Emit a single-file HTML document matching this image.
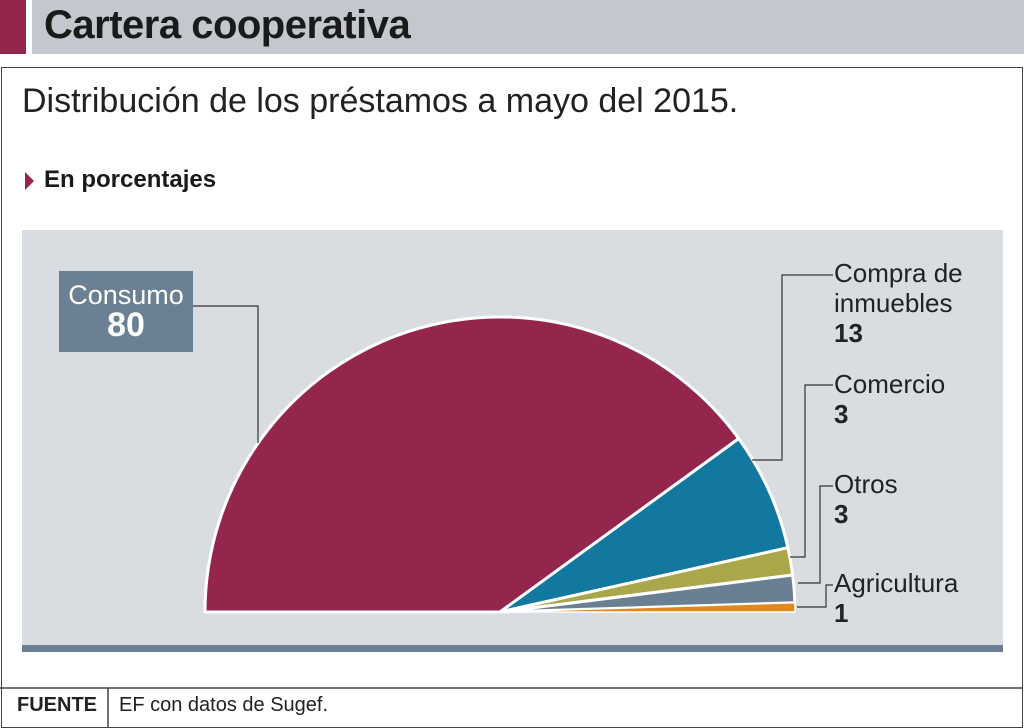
<!DOCTYPE html>
<html><head><meta charset="utf-8"><style>
body{margin:0;width:1024px;height:728px;background:#fff;position:relative;overflow:hidden;font-family:"Liberation Sans Narrow","Liberation Sans",sans-serif}
.a{position:absolute}
</style></head><body>
<div class="a" style="left:0;top:0;width:26px;height:54px;background:#94264e"></div>
<div class="a" style="left:32px;top:0;width:992px;height:54px;background:#c3c8cf"></div>
<div class="a" style="left:44px;top:3px;font-size:40px;font-weight:bold;color:#1a1a1a;letter-spacing:-0.5px">Cartera cooperativa</div>
<div class="a" style="left:1px;top:67px;width:1020px;height:659px;border:1px solid #444"></div>
<div class="a" style="left:22px;top:82px;font-size:34px;color:#222">Distribución de los préstamos a mayo del 2015.</div>
<div class="a" style="left:25px;top:172px;width:0;height:0;border-left:9px solid #94264e;border-top:9px solid transparent;border-bottom:9px solid transparent"></div>
<div class="a" style="left:44px;top:166px;font-size:24px;font-weight:bold;color:#1a1a1a">En porcentajes</div>
<div class="a" style="left:22px;top:230px;width:981px;height:415px;background:#d9dce0"></div>
<div class="a" style="left:22px;top:645px;width:981px;height:7px;background:#6b7f92"></div>
<svg class="a" style="left:0;top:0" width="1024" height="728">
<g stroke="#fff" stroke-width="3" stroke-linejoin="round">
<path d="M500,612 L205,612 A295,295 0 0 1 738.7,438.6 Z" fill="#94264e"/>
<path d="M500,612 L738.7,438.6 A295,295 0 0 1 787.9,547.7 Z" fill="#1378a0"/>
<path d="M500,612 L787.9,547.7 A295,295 0 0 1 792.7,575 Z" fill="#a8a84a"/>
<path d="M500,612 L792.7,575 A295,295 0 0 1 794.9,602.7 Z" fill="#6b7f92"/>
<path d="M500,612 L794.9,602.7 A295,295 0 0 1 795,612 Z" fill="#e08a1e" stroke-width="1.5"/>
</g>
<g stroke="#333" stroke-width="1.2" fill="none">
<polyline points="193,306 258,306 258,443"/>
<polyline points="833,275 782,275 782,460 752,460"/>
<polyline points="833,385 805,385 805,557 790,557"/>
<polyline points="833,486 820,486 820,583 798,583"/>
<polyline points="833,585 826,585 826,607 797,607"/>
</g>
<line x1="0" y1="688" x2="1022" y2="688" stroke="#444" stroke-width="1.5"/>
<line x1="108" y1="688" x2="108" y2="727" stroke="#444" stroke-width="1.5"/>
</svg>
<div class="a" style="left:59px;top:271px;width:134px;height:81px;background:#6b8093;color:#fff;text-align:center;font-size:27px;line-height:30px;padding-top:9px;box-sizing:border-box">Consumo<br><b style="font-size:34px">80</b></div>
<div class="a" style="left:834px;top:258px;font-size:26px;line-height:30px;color:#222">Compra de<br>inmuebles<br><b>13</b></div>
<div class="a" style="left:834px;top:369px;font-size:26px;line-height:30px;color:#222">Comercio<br><b>3</b></div>
<div class="a" style="left:834px;top:469px;font-size:26px;line-height:30px;color:#222">Otros<br><b>3</b></div>
<div class="a" style="left:834px;top:568px;font-size:26px;line-height:30px;color:#222">Agricultura<br><b>1</b></div>
<div class="a" style="left:17px;top:694px;font-size:20px;font-weight:bold;color:#222">FUENTE</div>
<div class="a" style="left:119px;top:694px;font-size:20px;color:#222">EF con datos de Sugef.</div>
</body></html>
